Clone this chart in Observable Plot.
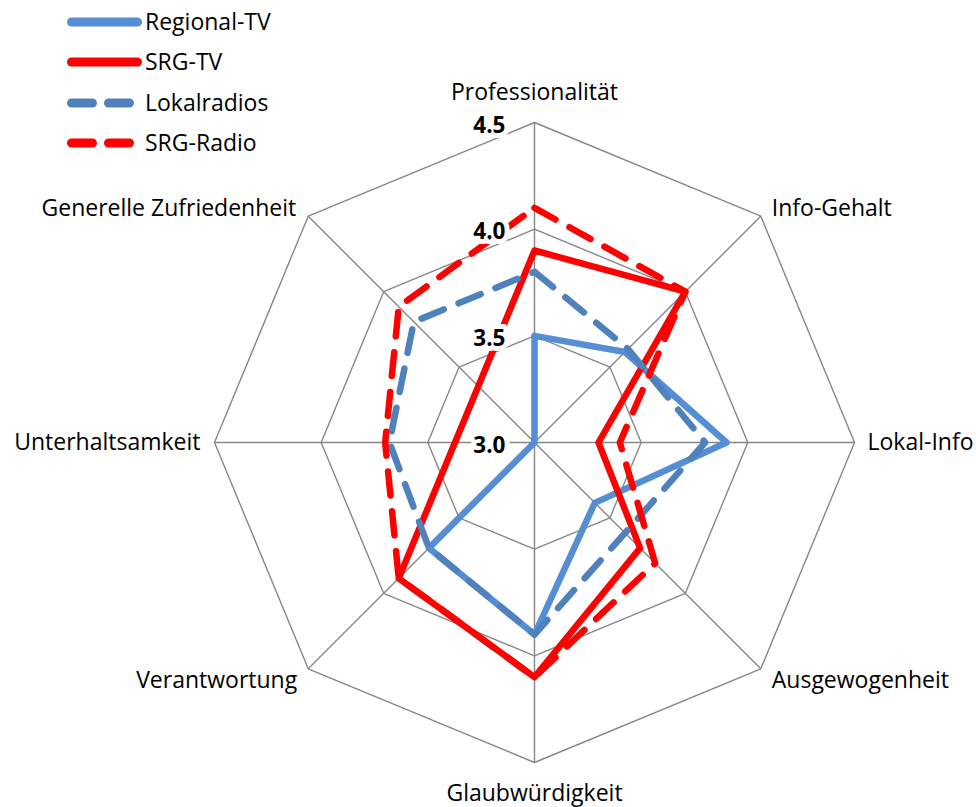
<!DOCTYPE html>
<html><head><meta charset="utf-8">
<script src="https://cdn.jsdelivr.net/npm/d3@7"></script>
<script src="https://cdn.jsdelivr.net/npm/@observablehq/plot@0.6"></script>
<style>
html,body{margin:0;padding:0;background:#fff;}
#wrap{position:relative;width:976px;height:807px;font-family:"Open Sans",sans-serif;}
#legend{position:absolute;left:0;top:0;}
</style></head><body><div id="wrap"><div id="chart"></div><svg id="legend" width="300" height="170"></svg></div>
<script>
const categories = ["Professionalität","Info-Gehalt","Lokal-Info","Ausgewogenheit","Glaubwürdigkeit","Verantwortung","Unterhaltsamkeit","Generelle Zufriedenheit"];
const seriesNames = ["Regional-TV","SRG-TV","Lokalradios","SRG-Radio"];
const regionalTV  = [3.5, 3.6, 3.9, 3.4, 3.9, 3.7, 3.0, 3.0];
const srgTV       = [3.9, 4.0, 3.3, 3.7, 4.1, 3.9, null, null];
const lokalradios = [3.8, 3.62, 3.8, 3.6, 3.9, 3.7, 3.68, 3.8];
const srgRadio    = [4.1, 4.0, 3.4, 3.8, 4.1, 3.9, 3.7, 3.9];
const tickValues  = [3.0, 3.5, 4.0, 4.5];
const tickLabels  = ["3.0", "3.5", "4.0", "4.5"];

const minV = 3.0, maxV = 4.5;
const seriesValues = [regionalTV, srgTV, lokalradios, srgRadio];
const seriesStyle = {
  "Regional-TV": {color: "#558ED5", dash: null},
  "SRG-TV":      {color: "#FF0000", dash: null},
  "Lokalradios": {color: "#4F81BD", dash: "24,16"},
  "SRG-Radio":   {color: "#FF0000", dash: "24,16"}
};
const n = categories.length;
const ang = i => i * 2 * Math.PI / n;
const px = (i, v) => (v - minV) * Math.sin(ang(i));
const py = (i, v) => (v - minV) * Math.cos(ang(i));

const rings = tickValues.filter(t => t > minV)
  .flatMap(t => d3.range(n + 1).map(k => ({ring: t, x: px(k % n, t), y: py(k % n, t)})));
const spokes = categories.map((c, i) => ({x1: 0, y1: 0, x2: px(i, maxV), y2: py(i, maxV)}));

function seriesPoints(name, vals) {
  const pts = vals.map((v, i) => v == null ? null : {series: name, x: px(i, v), y: py(i, v)}).filter(Boolean);
  return [...pts, {...pts[0]}];
}

const tickData = tickValues.map((t, i) => ({x: 0, y: t - minV, label: tickLabels[i]}));

const labelOffsets = [
  {dx: 0, dy: -30, anchor: "middle"},
  {dx: 11, dy: -8, anchor: "start"},
  {dx: 13, dy: 0, anchor: "start"},
  {dx: 11, dy: 12, anchor: "start"},
  {dx: 0, dy: 31, anchor: "middle"},
  {dx: -11, dy: 12, anchor: "end"},
  {dx: -14, dy: 0, anchor: "end"},
  {dx: -12, dy: -8, anchor: "end"}
];

const labelMarks = categories.map((c, i) => Plot.text([{x: px(i, maxV), y: py(i, maxV), t: c}], {
  x: "x", y: "y", text: "t", dx: labelOffsets[i].dx, dy: labelOffsets[i].dy,
  textAnchor: labelOffsets[i].anchor, fontSize: 23, fill: "#000"
}));

const lineMarks = seriesNames.map((s, k) => Plot.line(seriesPoints(s, seriesValues[k]), {
  x: "x", y: "y", stroke: seriesStyle[s].color, strokeWidth: 6.5,
  strokeDasharray: seriesStyle[s].dash, strokeLinecap: "round", strokeLinejoin: "round"
}));

const chart = Plot.plot({
  width: 976, height: 807,
  marginLeft: 214, marginRight: 122, marginTop: 122, marginBottom: 45,
  x: {domain: [-1.5, 1.5], axis: null},
  y: {domain: [-1.5, 1.5], axis: null},
  style: {fontFamily: "Open Sans", background: "white"},
  marks: [
    Plot.line(rings, {x: "x", y: "y", z: "ring", stroke: "#878787", strokeWidth: 1.4}),
    Plot.link(spokes, {x1: "x1", y1: "y1", x2: "x2", y2: "y2", stroke: "#878787", strokeWidth: 1.4}),
    ...lineMarks,
    Plot.text(tickData, {x: "x", y: "y", text: "label", textAnchor: "end", dx: -29, dy: 3,
      fontWeight: "bold", fontSize: 22.5, fill: "#000", stroke: "white", strokeWidth: 10, strokeLinejoin: "round"}),
    ...labelMarks
  ]
});
document.getElementById("chart").appendChild(chart);

// legend
const leg = d3.select("#legend");
const legY = [22, 62, 103, 143];
seriesNames.forEach((s, k) => {
  const st = seriesStyle[s];
  leg.append("line").attr("x1", 71.5).attr("x2", 137.5).attr("y1", legY[k]).attr("y2", legY[k])
    .attr("stroke", st.color).attr("stroke-width", 9).attr("stroke-linecap", "round")
    .attr("stroke-dasharray", st.dash ? "21,16" : null);
  leg.append("text").attr("x", 145).attr("y", legY[k]).attr("dy", "0.35em")
    .attr("font-size", 23).attr("font-family", "Open Sans").text(s);
});
</script></body></html>
